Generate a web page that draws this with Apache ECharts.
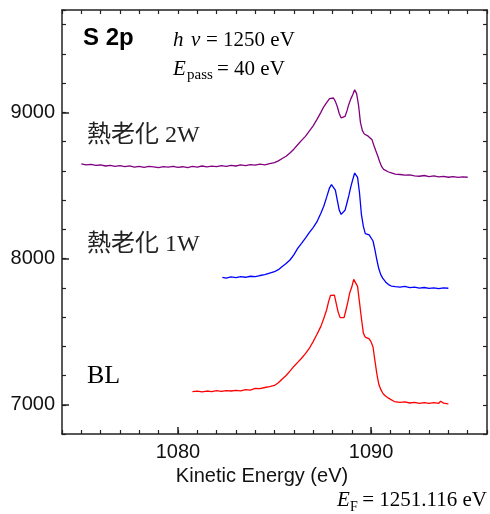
<!DOCTYPE html>
<html>
<head>
<meta charset="utf-8">
<script src="https://cdn.jsdelivr.net/npm/echarts@6/dist/echarts.min.js"></script>
<style>
  html, body { margin: 0; padding: 0; background: #fff; }
  #main { width: 490px; height: 514px; }
</style>
</head>
<body>
<div id="main"></div>
<script>
// S 2p spectra, [kinetic energy (eV), counts]
var aged2W = [
  [1075.00, 8648], [1075.25, 8641], [1075.50, 8644], [1075.75, 8637], [1076.00, 8640],
  [1076.25, 8633], [1076.50, 8638], [1076.75, 8630], [1077.00, 8636], [1077.25, 8628],
  [1077.50, 8634], [1077.75, 8626], [1078.00, 8631], [1078.25, 8624], [1078.50, 8630],
  [1078.75, 8627], [1079.00, 8622], [1079.25, 8629], [1079.50, 8625], [1079.75, 8631],
  [1080.00, 8623], [1080.25, 8628], [1080.50, 8622], [1080.75, 8630], [1081.00, 8626],
  [1081.25, 8633], [1081.50, 8627], [1081.75, 8632], [1082.00, 8629], [1082.25, 8636],
  [1082.50, 8631], [1082.75, 8638], [1083.00, 8633], [1083.25, 8640], [1083.50, 8636],
  [1083.75, 8643], [1084.00, 8639], [1084.25, 8646], [1084.50, 8641], [1084.75, 8650],
  [1085.00, 8656], [1085.20, 8668], [1085.40, 8684], [1085.60, 8700], [1085.80, 8722],
  [1086.00, 8748], [1086.20, 8778], [1086.40, 8808], [1086.60, 8836], [1086.80, 8872],
  [1087.00, 8908], [1087.20, 8952], [1087.40, 9000], [1087.55, 9038], [1087.70, 9066],
  [1087.85, 9094], [1087.95, 9103], [1088.05, 9098], [1088.15, 9075], [1088.25, 9040],
  [1088.35, 8992], [1088.45, 8962], [1088.55, 8952], [1088.65, 8972], [1088.75, 9010],
  [1088.85, 9056], [1088.95, 9092], [1089.05, 9120], [1089.15, 9155], [1089.25, 9128],
  [1089.35, 9050], [1089.45, 8930], [1089.55, 8875], [1089.65, 8852], [1089.75, 8842],
  [1089.85, 8837], [1089.95, 8830], [1090.05, 8812], [1090.15, 8772], [1090.25, 8735],
  [1090.35, 8700], [1090.45, 8660], [1090.55, 8628], [1090.65, 8610], [1090.75, 8600],
  [1090.90, 8592], [1091.05, 8586], [1091.25, 8578], [1091.50, 8575], [1091.75, 8570],
  [1092.00, 8573], [1092.25, 8566], [1092.50, 8563], [1092.75, 8568], [1093.00, 8561],
  [1093.25, 8565], [1093.50, 8558], [1093.75, 8562], [1094.00, 8556], [1094.25, 8561],
  [1094.50, 8555], [1094.75, 8559], [1095.00, 8556]
];

var aged1W = [
  [1082.30, 7872], [1082.50, 7866], [1082.75, 7874], [1083.00, 7870], [1083.25, 7876],
  [1083.50, 7872], [1083.75, 7879], [1084.00, 7876], [1084.25, 7884], [1084.50, 7890],
  [1084.75, 7901], [1085.00, 7910], [1085.20, 7924], [1085.40, 7946], [1085.60, 7966],
  [1085.80, 7990], [1086.00, 8025], [1086.20, 8070], [1086.40, 8104], [1086.60, 8140],
  [1086.80, 8178], [1087.00, 8212], [1087.20, 8252], [1087.40, 8310], [1087.55, 8358],
  [1087.70, 8420], [1087.85, 8484], [1087.95, 8505], [1088.05, 8500], [1088.15, 8468],
  [1088.25, 8400], [1088.35, 8332], [1088.45, 8302], [1088.55, 8300], [1088.65, 8330],
  [1088.75, 8380], [1088.85, 8432], [1088.95, 8490], [1089.05, 8540], [1089.15, 8585],
  [1089.22, 8595], [1089.30, 8555], [1089.40, 8450], [1089.50, 8300], [1089.60, 8220],
  [1089.70, 8170], [1089.80, 8158], [1089.90, 8162], [1090.00, 8165], [1090.10, 8120],
  [1090.20, 8060], [1090.30, 7990], [1090.40, 7930], [1090.50, 7890], [1090.60, 7866],
  [1090.75, 7840], [1090.90, 7822], [1091.05, 7812], [1091.25, 7808], [1091.50, 7804],
  [1091.75, 7809], [1092.00, 7801], [1092.25, 7805], [1092.50, 7797], [1092.75, 7802],
  [1093.00, 7796], [1093.25, 7800], [1093.50, 7794], [1093.75, 7799], [1094.00, 7797]
];

var baseline = [
  [1080.75, 7090], [1081.00, 7093], [1081.25, 7088], [1081.50, 7094], [1081.75, 7090],
  [1082.00, 7096], [1082.25, 7091], [1082.50, 7097], [1082.75, 7094], [1083.00, 7099],
  [1083.25, 7095], [1083.50, 7103], [1083.75, 7100], [1084.00, 7112], [1084.25, 7110],
  [1084.50, 7118], [1084.75, 7124], [1085.00, 7132], [1085.20, 7150], [1085.40, 7176],
  [1085.60, 7200], [1085.80, 7230], [1086.00, 7262], [1086.20, 7290], [1086.40, 7318],
  [1086.60, 7350], [1086.80, 7385], [1087.00, 7432], [1087.20, 7482], [1087.40, 7536],
  [1087.55, 7590], [1087.70, 7650], [1087.80, 7705], [1087.90, 7748], [1088.00, 7754],
  [1088.10, 7750], [1088.20, 7690], [1088.30, 7632], [1088.40, 7596], [1088.50, 7586],
  [1088.60, 7596], [1088.70, 7648], [1088.80, 7705], [1088.90, 7768], [1089.00, 7805],
  [1089.10, 7858], [1089.20, 7848], [1089.30, 7810], [1089.40, 7700], [1089.50, 7590],
  [1089.60, 7490], [1089.70, 7462], [1089.80, 7458], [1089.90, 7450], [1090.00, 7430],
  [1090.10, 7395], [1090.20, 7300], [1090.30, 7210], [1090.40, 7140], [1090.50, 7105],
  [1090.60, 7080], [1090.70, 7065], [1090.90, 7045], [1091.20, 7022], [1091.50, 7016],
  [1091.75, 7020], [1092.00, 7012], [1092.25, 7016], [1092.50, 7010], [1092.75, 7015],
  [1093.00, 7009], [1093.25, 7014], [1093.50, 7010], [1093.60, 7024], [1093.75, 7011],
  [1094.00, 7006]
];

var xMajor = [1080, 1090];
var yMajor = [7000, 8000, 9000];

var dom = document.getElementById("main");
var myChart = echarts.init(dom);

var frame = { show: true, lineStyle: { color: '#222', width: 1.5 } };
var serif = "'Liberation Serif', 'Times New Roman', 'Noto Sans CJK JP'";
var sans = "'Liberation Sans', Arial, sans-serif";

option = {
    animation: false,
    backgroundColor: '#fff',
    grid: { left: 62, right: 3, top: 10, bottom: 80 },
    xAxis: [
        {
            type: 'value', position: 'bottom', min: 1074, max: 1096, interval: 1,
            axisLine: frame,
            axisTick: { inside: true, length: 4, lineStyle: { color: '#222', width: 1.2 } },
            axisLabel: {
                margin: 8, color: '#111', fontSize: 20, fontFamily: sans,
                formatter: function (v) { return v % 10 === 0 ? String(v) : ''; }
            },
            splitLine: { show: false }
        },
        {
            type: 'value', position: 'bottom', min: 1074, max: 1096,
            axisLine: { show: false },
            axisTick: { show: true, inside: true, length: 7, customValues: xMajor, lineStyle: { color: '#222', width: 1.5 } },
            axisLabel: { show: false },
            splitLine: { show: false }
        },
        {
            type: 'value', position: 'top', min: 1074, max: 1096, interval: 1,
            axisLine: frame,
            axisTick: { inside: true, length: 4, lineStyle: { color: '#222', width: 1.2 } },
            axisLabel: { show: false },
            splitLine: { show: false }
        }
    ],
    yAxis: [
        {
            type: 'value', position: 'left', min: 6800, max: 9700, interval: 200,
            axisLine: frame,
            axisTick: { inside: true, length: 4, lineStyle: { color: '#222', width: 1.2 } },
            axisLabel: {
                margin: 7, color: '#111', fontSize: 20, fontFamily: sans,
                formatter: function (v) { return v % 1000 === 0 ? String(v) : ''; }
            },
            splitLine: { show: false }
        },
        {
            type: 'value', position: 'left', min: 6800, max: 9700,
            axisLine: { show: false },
            axisTick: { show: true, inside: true, length: 7, customValues: yMajor, lineStyle: { color: '#222', width: 1.5 } },
            axisLabel: { show: false },
            splitLine: { show: false }
        },
        {
            type: 'value', position: 'right', min: 6800, max: 9700, interval: 200,
            axisLine: frame,
            axisTick: { inside: true, length: 4, lineStyle: { color: '#222', width: 1.2 } },
            axisLabel: { show: false },
            splitLine: { show: false }
        }
    ],
    series: [
        {
            name: '熱老化 2W', type: 'line', data: aged2W, showSymbol: false,
            lineStyle: { color: '#800080', width: 1.3 }
        },
        {
            name: '熱老化 1W', type: 'line', data: aged1W, showSymbol: false,
            lineStyle: { color: '#0000ff', width: 1.3 }
        },
        {
            name: 'BL', type: 'line', data: baseline, showSymbol: false,
            lineStyle: { color: '#ff0000', width: 1.3 }
        }
    ],
    graphic: [
        { type: 'text', left: 83, top: 26, style: { text: 'S 2p', font: 'bold 24px ' + sans, fill: '#000' } },
        // hv = 1250 eV
        { type: 'text', x: 173, y: 40, style: { text: 'h', font: 'italic 21px ' + serif, fill: '#000', verticalAlign: 'middle' } },
        { type: 'text', x: 191, y: 40, style: { text: 'ν', font: 'italic 21px ' + serif, fill: '#000', verticalAlign: 'middle' } },
        { type: 'text', x: 206, y: 40, style: { text: '= 1250 eV', font: '21px ' + serif, fill: '#000', verticalAlign: 'middle' } },
        // E_pass = 40 eV
        { type: 'text', x: 173, y: 69, style: { text: 'E', font: 'italic 21px ' + serif, fill: '#000', verticalAlign: 'middle' } },
        { type: 'text', x: 187, y: 75.5, style: { text: 'pass', font: '15px ' + serif, fill: '#000', verticalAlign: 'middle' } },
        { type: 'text', x: 217, y: 69, style: { text: '= 40 eV', font: '21px ' + serif, fill: '#000', verticalAlign: 'middle' } },
        // series labels
        { type: 'text', x: 87, y: 136, style: { text: '熱老化 2W', font: '24px ' + serif, fill: '#222', verticalAlign: 'middle' } },
        { type: 'text', x: 87, y: 244.5, style: { text: '熱老化 1W', font: '24px ' + serif, fill: '#222', verticalAlign: 'middle' } },
        { type: 'text', x: 87, y: 376.5, style: { text: 'BL', font: '26px ' + serif, fill: '#000', verticalAlign: 'middle' } },
        // axis title
        { type: 'text', x: 262, y: 476, style: { text: 'Kinetic Energy (eV)', font: '20px ' + sans, fill: '#111', align: 'center', verticalAlign: 'middle' } },
        // E_F = 1251.116 eV
        { type: 'text', x: 337, y: 500, style: { text: 'E', font: 'italic 21px ' + serif, fill: '#000', verticalAlign: 'middle' } },
        { type: 'text', x: 350, y: 507.5, style: { text: 'F', font: '14px ' + serif, fill: '#000', verticalAlign: 'middle' } },
        { type: 'text', x: 487, y: 500, style: { text: '= 1251.116 eV', font: '21px ' + serif, fill: '#000', align: 'right', verticalAlign: 'middle' } }
    ]
};
if (option && typeof option === "object") {
    myChart.setOption(option, true);
}
</script>
</body>
</html>
